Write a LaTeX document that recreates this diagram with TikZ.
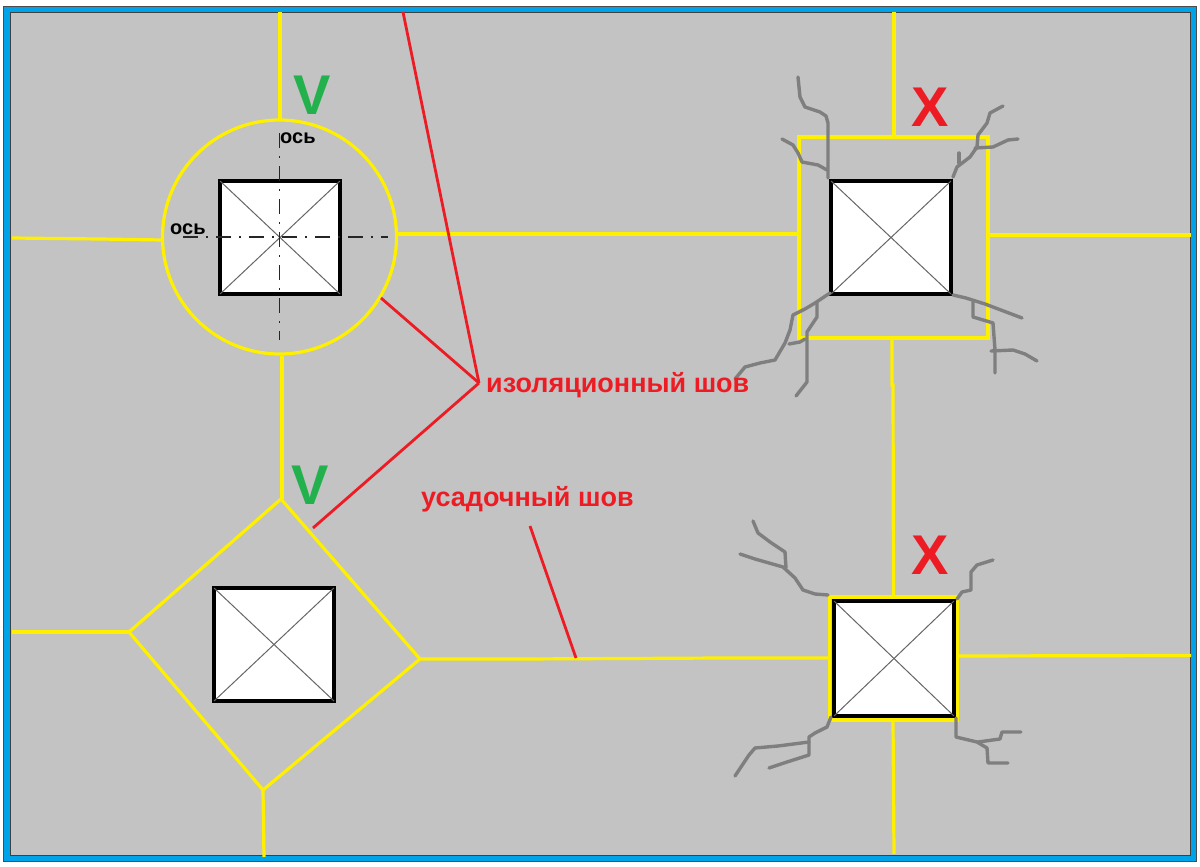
\documentclass[tikz,border=0pt]{standalone}
\usepackage{fontspec}
\setmainfont{Liberation Sans}
\tikzset{x=1pt,y=-1pt,
 seam/.style={draw=seamcol,line width=3.2pt},
 crack/.style={draw=crackcol,line width=3.4pt,line join=round,line cap=round},
 lead/.style={draw=leadcol,line width=2.8pt},
 column/.style={draw=black,line width=4.8pt,fill=white},
 diag/.style={draw=black!60,line width=1pt},
 axisline/.style={draw=black!85,line width=1.1pt,dash pattern=on 15pt off 8pt on 2pt off 8pt},
 redlabel/.style={text=leadcol,font=\bfseries\fontsize{27}{29}\selectfont,inner sep=0pt,anchor=west},
 axlabel/.style={text=black,font=\bfseries\fontsize{20}{22}\selectfont,inner sep=0pt},
 bigmark/.style={font=\bfseries\fontsize{56}{56}\selectfont,inner sep=0pt}
}
\definecolor{seamcol}{RGB}{255,240,0}
\definecolor{crackcol}{RGB}{127,127,127}
\definecolor{leadcol}{RGB}{237,28,36}
\definecolor{okcol}{RGB}{34,177,76}
\definecolor{framecol}{RGB}{0,162,232}
\definecolor{floorcol}{RGB}{195,195,195}
\begin{document}
\begin{tikzpicture}
\useasboundingbox (0,0) rectangle (1200,867);
\fill[white] (0,0) rectangle (1200,867);
\fill[black!70] (3,6) rectangle (1197,862);
\fill[framecol] (4,7) rectangle (1196,861);
\filldraw[fill=floorcol,draw=black!75,line width=1pt] (10.5,12.5) rectangle (1190,855.5);

% seams column 1
\draw[seam] (280,12) -- (280,119);
\draw[seam] (12,238) -- (100,239) -- (163,240);
\draw[seam] (397,234) -- (799,234);
\draw[seam] (282,356) -- (282,499);
\draw[seam] (279.5,237) circle[radius=117];
% diamond
\draw[seam,line join=round] (281,499) -- (420,659) -- (263,790) -- (129,632) -- cycle;
\draw[seam] (12,632) -- (129,632);
\draw[seam] (420,659) -- (522,659) -- (722,658) -- (831,658);
\draw[seam] (263,790) -- (264,857);
% column 2
\draw[seam] (799,137) rectangle (988,338);
\draw[seam] (894,12) -- (894,137);
\draw[seam] (988,235) -- (1191,235);
\draw[seam] (892,338) -- (892,385) -- (893,385) -- (893.5,597);
% column 4
\draw[seam] (829.5,597) rectangle (957.5,720);
\draw[seam] (958,656) -- (1191,655.5);
\draw[seam] (893,720) -- (894,854);

% columns
\filldraw[column] (220,181) rectangle (340,294);
\draw[diag] (220,181) -- (340,294) (340,181) -- (220,294);
\filldraw[column] (214,588) rectangle (334,701);
\draw[diag] (214,588) -- (334,701) (334,588) -- (214,701);
\filldraw[column] (831,181) rectangle (951,294);
\draw[diag] (831,181) -- (951,294) (951,181) -- (831,294);
\filldraw[column] (834,601) rectangle (954,716);
\draw[diag] (834,601) -- (954,716) (954,601) -- (834,716);

% axes
\draw[axisline] (279.5,133) -- (279.5,340);
\draw[axisline] (183,237) -- (388,237);

% cracks upper right
\draw[crack] (798,77) -- (800,97) -- (805,107) -- (820,112) -- (826,116) -- (828,123) -- (828,178);
\draw[crack] (782,139) -- (793,145) -- (798,153) -- (802,162) -- (818,165) -- (827,170);
\draw[crack] (953,177) -- (957,167) -- (970,157) -- (977,147) -- (978,135) -- (987,123) -- (990,113) -- (1003,106);
\draw[crack] (975,148) -- (993,147) -- (1008,140) -- (1018,139);
\draw[crack] (959,153) -- (959,163);
\draw[crack] (830,293) -- (815,303) -- (805,309) -- (793,315) -- (790,330) -- (785,343) -- (775,360) -- (760,363) -- (745,367) -- (735,379);
\draw[crack] (817,302) -- (817,317) -- (807,332) -- (807,382) -- (796,396);
\draw[crack] (789,344) -- (800,342) -- (805,339);
\draw[crack] (953,295) -- (966,298) -- (985,304) -- (1022,318);
\draw[crack] (973,302) -- (973,317) -- (993,323) -- (995,350) -- (995,373);
\draw[crack] (991,351) -- (1013,350) -- (1025,354) -- (1037,361);

% cracks lower right
\draw[crack] (753,521) -- (758,533) -- (770,542) -- (785,552) -- (786,568);
\draw[crack] (740,554) -- (755,559) -- (783,567) -- (795,578) -- (803,590) -- (815,594) -- (828,595);
\draw[crack] (957,599) -- (962,592) -- (971,590) -- (971,572) -- (977,565) -- (993,560);
\draw[crack] (831,717) -- (827,727) -- (815,733) -- (809,737) -- (809,742) -- (778,746) -- (755,748) -- (749,755) -- (735,776);
\draw[crack] (809,742) -- (809,755) -- (787,762) -- (769,768);
\draw[crack] (956,718) -- (956,737) -- (977,742) -- (987,748) -- (988,763) -- (1008,763);
\draw[crack] (978,742) -- (1000,739) -- (1002,732) -- (1021,732);

% leaders
\coordinate (hub) at (479,383);
\draw[lead,line join=round] (403,12) -- (hub);
\draw[lead] (381,298) -- (hub);
\draw[lead] (313,528) -- (hub);
\draw[lead] (530,526) -- (576,658);

% labels
\node[redlabel] (lbl1) at (486,385) {изоляционный шов};
\node[redlabel] (lbl2) at (421,499) {усадочный шов};
\node[axlabel,anchor=west] (ax1) at (280,138) {ось};
\node[axlabel,anchor=west] (ax2) at (170,229) {ось};
\node[bigmark,text=okcol] (v1) at (312,95) {V};
\node[bigmark,text=okcol] (v2) at (310,485) {V};
\node[bigmark,text=leadcol] (x1) at (930,107) {X};
\node[bigmark,text=leadcol] (x2) at (930,555) {X};
\end{tikzpicture}
\end{document}
